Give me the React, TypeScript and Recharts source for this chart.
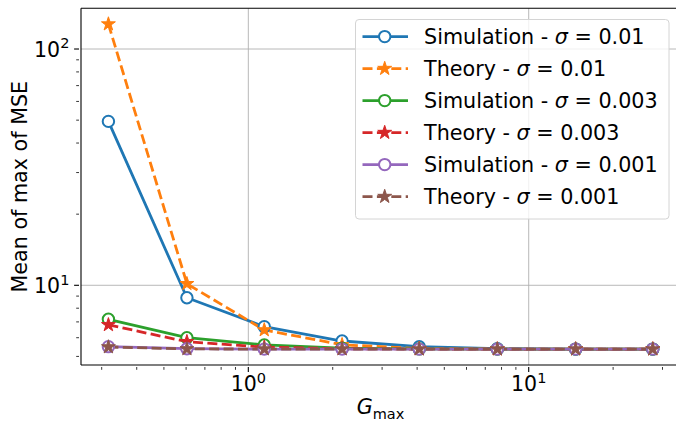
import React from 'react';
import { LineChart, Line, XAxis, YAxis, CartesianGrid, ReferenceLine, Legend } from 'recharts';

const gMax = [0.317, 0.604, 1.14, 2.16, 4.07, 7.73, 14.7, 27.7];
const simHigh = [49.4, 8.86, 6.68, 5.81, 5.5, 5.39, 5.37, 5.37];
const theoryHigh = [127.5, 10.15, 6.47, 5.6, 5.4, 5.37, 5.37, 5.37];
const simMid = [7.18, 6.0, 5.59, 5.42, 5.38, 5.37, 5.37, 5.37];
const theoryMid = [6.8, 5.77, 5.47, 5.39, 5.37, 5.37, 5.37, 5.37];
const simLow = [5.5, 5.39, 5.37, 5.37, 5.37, 5.37, 5.37, 5.37];
const theoryLow = [5.48, 5.38, 5.37, 5.37, 5.37, 5.37, 5.37, 5.37];

const xTicks = [0.3, 0.4, 0.5, 0.6, 0.7, 0.8, 0.9, 1, 2, 3, 4, 5, 6, 7, 8, 9, 10, 20, 30];
const yTicks = [5, 6, 7, 8, 9, 10, 20, 30, 40, 50, 60, 70, 80, 90, 100];

const X_DOMAIN = [0.2531, 33.52];
const Y_DOMAIN = [4.599, 148.7];

const FONT = '"DejaVu Sans", sans-serif';

const series = [
  { key: 'simHigh', values: simHigh, name: 'Simulation', sigma: '0.01', color: '#1f77b4', dashed: false },
  { key: 'theoryHigh', values: theoryHigh, name: 'Theory', sigma: '0.01', color: '#ff7f0e', dashed: true },
  { key: 'simMid', values: simMid, name: 'Simulation', sigma: '0.003', color: '#2ca02c', dashed: false },
  { key: 'theoryMid', values: theoryMid, name: 'Theory', sigma: '0.003', color: '#d62728', dashed: true },
  { key: 'simLow', values: simLow, name: 'Simulation', sigma: '0.001', color: '#9467bd', dashed: false },
  { key: 'theoryLow', values: theoryLow, name: 'Theory', sigma: '0.001', color: '#8c564b', dashed: true },
];

const data = gMax.map((x, i) => {
  const row: Record<string, number> = { x };
  series.forEach((s) => {
    row[s.key] = s.values[i];
  });
  return row;
});

const DASH = '10 4.4';
const LINE_W = 2.8;

const starPath = (cx: number, cy: number, R: number) => {
  const r = R * 0.382;
  let d = '';
  for (let k = 0; k < 10; k++) {
    const a = ((-90 + 36 * k) * Math.PI) / 180;
    const rad = k % 2 === 0 ? R : r;
    d += (k === 0 ? 'M' : 'L') + (cx + rad * Math.cos(a)).toFixed(2) + ',' + (cy + rad * Math.sin(a)).toFixed(2);
  }
  return d + 'Z';
};

const Marker = ({ cx, cy, color, star }: { cx: number; cy: number; color: string; star: boolean }) =>
  star ? (
    <path d={starPath(cx, cy, 7.3)} fill={color} stroke={color} strokeWidth={1} strokeLinejoin="miter" />
  ) : (
    <circle cx={cx} cy={cy} r={5.7} fill="#fff" stroke={color} strokeWidth={2} />
  );

const makeDot = (color: string, star: boolean) => (props: any) => {
  const { cx, cy, index } = props;
  if (cx == null || cy == null) return <g key={`e-${index}`} />;
  return <Marker key={`m-${color}-${index}`} cx={cx} cy={cy} color={color} star={star} />;
};

const isMajor = (v: number) => Math.abs(Math.log10(v) - Math.round(Math.log10(v))) < 1e-6;

const XTick = (props: any) => {
  const { x, y, payload } = props;
  const v = payload.value;
  const major = isMajor(v);
  return (
    <g>
      <line x1={x} x2={x} y1={y} y2={y + (major ? 4.9 : 2.8)} stroke="#000" strokeWidth={major ? 1.1 : 0.8} />
      {major && (
        <text x={x} y={y + 24.3} textAnchor="middle" fontSize={20.5} fill="#000" fontFamily={FONT}>
          10
          <tspan dy={-8.6} fontSize={14.5}>
            {Math.round(Math.log10(v))}
          </tspan>
        </text>
      )}
    </g>
  );
};

const YTick = (props: any) => {
  const { x, y, payload } = props;
  const v = payload.value;
  const major = isMajor(v);
  return (
    <g>
      <line x1={x - (major ? 4.9 : 2.8)} x2={x} y1={y} y2={y} stroke="#000" strokeWidth={major ? 1.1 : 0.8} />
      {major && (
        <text x={x - 9.6} y={y + 8} textAnchor="end" fontSize={20.5} fill="#000" fontFamily={FONT}>
          10
          <tspan dy={-8.6} fontSize={14.5}>
            {Math.round(Math.log10(v))}
          </tspan>
        </text>
      )}
    </g>
  );
};

const XLabel = (props: any) => {
  const vb = props.viewBox;
  return (
    <text x={vb.x + vb.width / 2 + 2} y={vb.y + 49.3} textAnchor="middle" fontSize={20.7} fill="#000" fontFamily={FONT}>
      <tspan fontStyle="italic">G</tspan>
      <tspan dy={4.4} fontSize={14.5}>
        max
      </tspan>
    </text>
  );
};

const YLabel = (props: any) => {
  const vb = props.viewBox;
  const cx = vb.x + 27.3;
  const cy = vb.y + vb.height / 2;
  return (
    <text
      transform={`translate(${cx},${cy}) rotate(-90)`}
      textAnchor="middle"
      fontSize={20.7}
      fill="#000"
      fontFamily={FONT}
    >
      Mean of max of MSE
    </text>
  );
};

const LegendBox = () => (
  <svg width={316} height={202} style={{ display: 'block', overflow: 'visible' }}>
    <rect x={0.5} y={0.5} width={313.5} height={199.5} rx={3.5} fill="#fff" fillOpacity={0.8} stroke="#d4d4d4" strokeWidth={1} />
    {series.map((s, i) => {
      const cy = 17.6 + 32 * i;
      return (
        <g key={s.key}>
          <line
            x1={7.5}
            x2={53}
            y1={cy}
            y2={cy}
            stroke={s.color}
            strokeWidth={LINE_W}
            strokeDasharray={s.dashed ? DASH : undefined}
          />
          <Marker cx={29.7} cy={cy} color={s.color} star={s.dashed} />
          <text x={69} y={cy + 7} fontSize={20.7} fill="#000" fontFamily={FONT}>
            {s.name} - <tspan fontStyle="italic">σ</tspan> = {s.sigma}
          </text>
        </g>
      );
    })}
  </svg>
);

export default function App() {
  return (
    <div style={{ position: 'absolute', left: 0, top: 0, width: 676, height: 424, background: '#fff' }}>
      <LineChart width={676} height={424} data={data} margin={{ top: 8.3, right: 0, bottom: 0, left: 0 }}>
        <CartesianGrid horizontalValues={[10, 100]} verticalValues={[1, 10]} stroke="#b0b0b0" strokeWidth={0.9} />
        <XAxis
          dataKey="x"
          type="number"
          scale="log"
          domain={X_DOMAIN}
          allowDataOverflow
          ticks={xTicks}
          interval={0}
          tickLine={false}
          tickSize={0}
          tick={<XTick />}
          height={59}
          axisLine={{ stroke: '#000', strokeWidth: 1.1 }}
          label={<XLabel />}
        />
        <YAxis
          type="number"
          scale="log"
          domain={Y_DOMAIN}
          allowDataOverflow
          ticks={yTicks}
          interval={0}
          tickLine={false}
          tickSize={0}
          tick={<YTick />}
          width={81}
          axisLine={{ stroke: '#000', strokeWidth: 1.1 }}
          label={<YLabel />}
        />
        <ReferenceLine y={Y_DOMAIN[1]} stroke="#000" strokeWidth={1.1} />
        {series.map((s) => (
          <Line
            key={s.key}
            dataKey={s.key}
            type="linear"
            stroke={s.color}
            strokeWidth={LINE_W}
            strokeDasharray={s.dashed ? DASH : undefined}
            dot={makeDot(s.color, s.dashed)}
            activeDot={false}
            isAnimationActive={false}
          />
        ))}
        <Legend
          layout="horizontal"
          verticalAlign="middle"
          align="center"
          content={<LegendBox />}
          wrapperStyle={{ left: 355, top: 19, width: 316, height: 202 }}
        />
      </LineChart>
    </div>
  );
}
